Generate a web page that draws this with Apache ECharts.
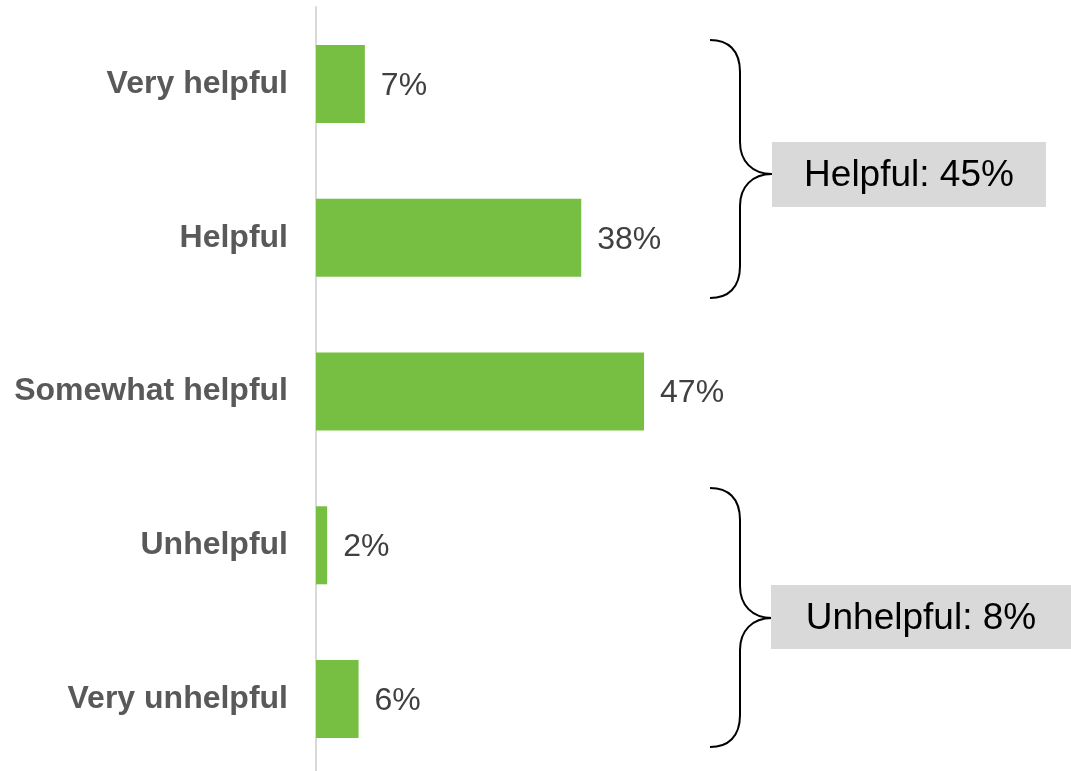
<!DOCTYPE html>
<html>
<head>
<meta charset="utf-8">
<title>Helpfulness</title>
<script src="https://cdn.jsdelivr.net/npm/echarts@6/dist/echarts.min.js"></script>
<style>
    html, body { margin: 0; padding: 0; background: #fff; }
    #chart { width: 1071px; height: 771px; }
</style>
</head>
<body>
<div id="chart"></div>
<script>
var categories = ['Very helpful', 'Helpful', 'Somewhat helpful', 'Unhelpful', 'Very unhelpful'];
// bar lengths; labels show them rounded
var values = [7, 38, 47, 1.6, 6.1];
var groupLabels = ['Helpful: 45%', 'Unhelpful: 8%'];

var FONT = '"Liberation Sans", Arial, sans-serif';
var braceStyle = { fill: 'none', stroke: '#000', lineWidth: 2 };

// curly brace opening left, tip pointing right: 4 curves + 2 straight pieces
function brace(top, tip, bottom) {
    function curve(x1, y1, cx1, cy1, cx2, cy2, x2, y2) {
        return {
            type: 'bezierCurve',
            shape: { x1: x1, y1: y1, cpx1: cx1, cpy1: cy1, cpx2: cx2, cpy2: cy2, x2: x2, y2: y2 },
            style: braceStyle
        };
    }
    function seg(y1, y2) {
        return { type: 'line', shape: { x1: 740, y1: y1, x2: 740, y2: y2 }, style: braceStyle };
    }
    return [
        curve(710, top, 728, top, 740, top + 10, 740, top + 32),
        seg(top + 32, tip - 32),
        curve(740, tip - 32, 740, tip - 13, 752, tip, 772, tip),
        curve(772, tip, 752, tip, 740, tip + 13, 740, tip + 32),
        seg(tip + 32, bottom - 32),
        curve(740, bottom - 32, 740, bottom - 10, 728, bottom, 710, bottom)
    ];
}

var graphics = []
    .concat(brace(40, 174, 298))
    .concat(brace(488, 618, 747))
    .concat([
        {
            type: 'rect',
            shape: { x: 772, y: 142, width: 274, height: 65 },
            style: { fill: '#d9d9d9' }
        },
        {
            type: 'text',
            x: 909, y: 176,
            style: {
                text: groupLabels[0], fill: '#000', font: '37px ' + FONT,
                textAlign: 'center', textVerticalAlign: 'middle'
            }
        },
        {
            type: 'rect',
            shape: { x: 771, y: 585, width: 300, height: 64 },
            style: { fill: '#d9d9d9' }
        },
        {
            type: 'text',
            x: 921, y: 619,
            style: {
                text: groupLabels[1], fill: '#000', font: '37px ' + FONT,
                textAlign: 'center', textVerticalAlign: 'middle'
            }
        }
    ]);

var chart = echarts.init(document.getElementById('chart'));

chart.setOption({
    animation: false,
    textStyle: { fontFamily: FONT },
    grid: { left: 316, top: 7, width: 698, height: 769, outerBoundsMode: 'none' },
    xAxis: {
        type: 'value',
        min: 0,
        max: 100,
        show: false
    },
    yAxis: {
        type: 'category',
        inverse: true,
        data: categories,
        axisLine: { lineStyle: { color: '#d9d9d9', width: 2 } },
        axisTick: { show: false },
        axisLabel: {
            margin: 28,
            color: '#595959',
            fontSize: 32,
            fontWeight: 'bold',
            fontFamily: FONT
        }
    },
    series: [{
        type: 'bar',
        data: values,
        barWidth: 78,
        itemStyle: { color: '#77bf43' },
        label: {
            show: true,
            position: 'right',
            distance: 16,
            offset: [0, 2],
            color: '#404040',
            fontSize: 32,
            fontFamily: FONT,
            formatter: function (p) { return Math.round(p.value) + '%'; }
        }
    }],
    graphic: graphics
});
</script>
</body>
</html>
